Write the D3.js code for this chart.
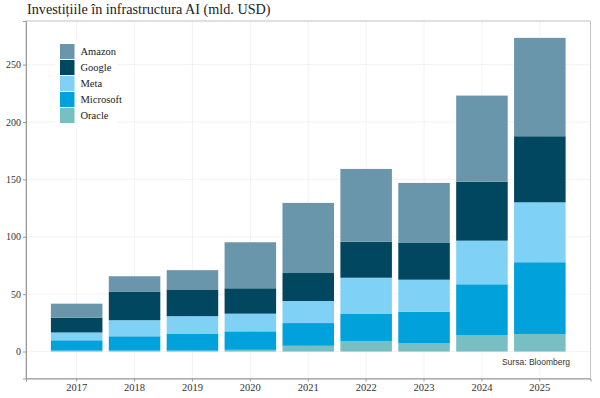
<!DOCTYPE html>
<html>
<head>
<meta charset="utf-8">
<script src="https://cdn.jsdelivr.net/npm/d3@7"></script>
<style>
  body { margin: 0; background: #fff; }
  svg { display: block; }
</style>
</head>
<body>
<div id="chart"></div>
<script>
// Data (mld. USD)
const years = ['2017', '2018', '2019', '2020', '2021', '2022', '2023', '2024', '2025'];
const oracle    = [0.8, 0.8, 0.8, 1.5, 5.0, 9.2, 7.1, 14.4, 15.3];
const microsoft = [9.0, 12.5, 14.9, 16.1, 19.8, 23.5, 27.6, 44.2, 62.5];
const meta      = [6.8, 14.0, 15.1, 15.4, 19.2, 31.6, 27.9, 38.0, 52.2];
const google    = [12.9, 25.0, 23.3, 22.1, 24.4, 31.4, 32.0, 51.4, 57.6];
const amazon    = [12.2, 13.3, 16.8, 40.1, 61.1, 63.4, 52.3, 75.0, 85.7];
const yTicks = [0, 50, 100, 150, 200, 250];

const companies = ['Oracle', 'Microsoft', 'Meta', 'Google', 'Amazon'];
const legendOrder = ['Amazon', 'Google', 'Meta', 'Microsoft', 'Oracle'];
const colors = {
  Amazon: '#6996ab',
  Google: '#01475f',
  Meta: '#7fd2f6',
  Microsoft: '#01a1dc',
  Oracle: '#77bfc2'
};

const width = 600, height = 398;
const panel = { left: 26, right: 590.5, top: 21, bottom: 378.5 };

const table = years.map((y, i) => ({
  year: y,
  Oracle: oracle[i],
  Microsoft: microsoft[i],
  Meta: meta[i],
  Google: google[i],
  Amazon: amazon[i]
}));

const svg = d3.select('#chart')
  .append('svg')
  .attr('width', width)
  .attr('height', height);

const x = d3.scaleBand()
  .domain(years)
  .range([panel.left, panel.right])
  .paddingInner(0.11)
  .paddingOuter(0.43);

const y = d3.scaleLinear()
  .domain([-23.5, 288])
  .range([panel.bottom, panel.top]);

// Grid
const grid = svg.append('g');
grid.selectAll('line.h')
  .data(yTicks)
  .enter().append('line')
  .attr('x1', panel.left).attr('x2', panel.right)
  .attr('y1', d => y(d)).attr('y2', d => y(d))
  .attr('stroke', '#ebebeb').attr('stroke-width', 0.6);
grid.selectAll('line.v')
  .data(years)
  .enter().append('line')
  .attr('x1', d => x(d) + x.bandwidth() / 2).attr('x2', d => x(d) + x.bandwidth() / 2)
  .attr('y1', panel.top).attr('y2', panel.bottom)
  .attr('stroke', '#ebebeb').attr('stroke-width', 0.6);

// Stacked bars
const stack = d3.stack().keys(companies);
const series = stack(table);

svg.append('g')
  .selectAll('g')
  .data(series)
  .enter().append('g')
  .attr('fill', d => colors[d.key])
  .selectAll('rect')
  .data(d => d)
  .enter().append('rect')
  .attr('x', d => x(d.data.year))
  .attr('width', x.bandwidth())
  .attr('y', d => y(d[1]))
  .attr('height', d => y(d[0]) - y(d[1]));

// Panel border
svg.append('rect')
  .attr('x', panel.left).attr('y', panel.top)
  .attr('width', panel.right - panel.left)
  .attr('height', panel.bottom - panel.top)
  .attr('fill', 'none')
  .attr('stroke', '#b3b3b3')
  .attr('stroke-width', 0.8);

// Axes
const serif = '"Liberation Serif", "DejaVu Serif", serif';

const yAxis = svg.append('g')
  .attr('transform', `translate(${panel.left},0)`)
  .call(d3.axisLeft(y).tickValues(yTicks).tickSize(3).tickPadding(2));
yAxis.select('.domain').attr('stroke', '#999').attr('stroke-width', 1);
yAxis.selectAll('.tick line').attr('stroke', '#999');
yAxis.selectAll('text')
  .attr('fill', '#333')
  .attr('font-family', serif)
  .attr('font-size', '10px');

const xAxis = svg.append('g')
  .attr('transform', `translate(0,${panel.bottom})`)
  .call(d3.axisBottom(x).tickSize(3).tickPadding(2));
xAxis.select('.domain').attr('stroke', '#999').attr('stroke-width', 1);
xAxis.selectAll('.tick line').attr('stroke', '#999');
xAxis.selectAll('text')
  .attr('fill', '#333')
  .attr('font-family', serif)
  .attr('font-size', '10.5px');

// Title
svg.append('text')
  .attr('x', 27)
  .attr('y', 14)
  .attr('fill', '#222')
  .attr('font-family', serif)
  .attr('font-size', '14.2px')
  .text('Investițiile în infrastructura AI (mld. USD)');

// Legend
const legend = svg.append('g');
legend.append('rect')
  .attr('x', 55).attr('y', 39)
  .attr('width', 62).attr('height', 89)
  .attr('fill', '#fff');
const items = legend.selectAll('g.item')
  .data(legendOrder)
  .enter().append('g')
  .attr('transform', (d, i) => `translate(60,${44 + i * 16})`);
items.append('rect')
  .attr('width', 14.5)
  .attr('height', 15)
  .attr('fill', d => colors[d]);
items.append('text')
  .attr('x', 20.5)
  .attr('y', 11)
  .attr('fill', '#222')
  .attr('font-family', serif)
  .attr('font-size', '10.5px')
  .text(d => d);

// Source
svg.append('text')
  .attr('x', 570)
  .attr('y', 365)
  .attr('text-anchor', 'end')
  .attr('fill', '#333')
  .attr('font-family', '"Liberation Sans", Arial, sans-serif')
  .attr('font-size', '8.5px')
  .text('Sursa: Bloomberg');
</script>
</body>
</html>
